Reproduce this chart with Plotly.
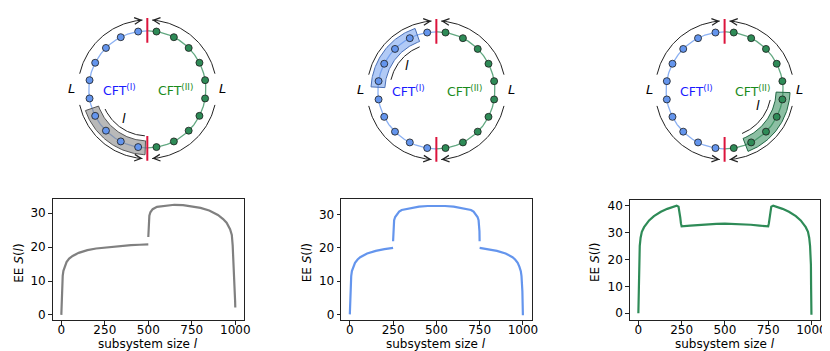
import numpy as np
import plotly.graph_objects as go

# --- lower panels: entanglement entropy S(l) vs subsystem size l ---
# None marks the jump where the curve is broken
l_grey = [0, 1, 2, 3, 5, 8, 12, 20, 30, 45, 65, 100, 150, 200, 250, 300, 350, 400, 450, 500,
          None, 500, 501, 503, 506, 512, 525, 550, 600, 650, 700, 750, 800, 850, 900, 930, 950,
          970, 980, 985, 990, 993, 995, 997, 999, 1000]
s_grey = [0, 2, 4.5, 7, 9.5, 11.5, 13, 14.5, 15.6, 16.6, 17.4, 18.3, 19.1, 19.6, 19.9, 20.2, 20.4, 20.6, 20.7, 20.8,
          None, 23, 26, 28, 29.3, 30.3, 31.2, 31.9, 32.3, 32.5, 32.4, 32.1, 31.6, 30.8, 29.5, 28.3, 27.2,
          25.3, 23.6, 20.5, 16, 12, 9, 6, 4, 2.2]

l_blue = [0, 1, 2, 3, 5, 8, 12, 20, 30, 45, 60, 100, 150, 200, 250,
          None, 250, 251, 253, 256, 262, 270, 285, 300, 350, 400, 450, 500,
          550, 600, 650, 700, 715, 730, 738, 744, 747, 749, 750,
          None, 750, 800, 850, 900, 940, 955, 970, 980, 988, 992, 995, 997, 998, 999, 1000]
s_blue = [0, 2, 4.5, 7, 9.5, 11.5, 13, 14.3, 15.5, 16.5, 17.2, 18.3, 19.1, 19.6, 20.0,
          None, 22, 25, 27, 28.3, 29.3, 30.0, 30.9, 31.4, 32.0, 32.4, 32.6, 32.7,
          32.6, 32.4, 32.0, 31.4, 30.9, 30.0, 29.3, 28.3, 27, 25, 22,
          None, 20.0, 19.6, 19.1, 18.3, 17.2, 16.5, 15.5, 14.3, 13, 11.5, 9.5, 7, 4.5, 2, -0.3]

l_green = [0, 1, 2, 3, 5, 8, 13, 20, 33, 50, 62, 90, 130, 167, 200, 221, 232, 238, 242, 246, 250,
           300, 350, 400, 450, 500, 550, 600, 650, 700,
           750, 754, 758, 762, 768, 779, 800, 833, 870, 910, 938, 950, 967, 980, 987, 992, 995, 997, 998, 999, 1000]
s_green = [0, 4, 10, 18, 22, 25, 28, 30.2, 31.9, 33.4, 34.4, 36, 37.6, 38.7, 39.5, 39.9, 39.5, 37.8, 35.5, 33.3, 32.2,
           32.5, 32.8, 33.0, 33.15, 33.2, 33.15, 33.0, 32.8, 32.5,
           32.2, 33.3, 35.5, 37.8, 39.5, 39.9, 39.5, 38.7, 37.6, 36, 34.4, 33.4, 31.9, 30.2, 28, 25, 22, 18, 10, 4, -0.5]

x_ticks = [0, 250, 500, 750, 1000]
y_ticks_a = [0, 10, 20, 30]
y_ticks_b = [0, 10, 20, 30, 40]

GREY = "#808080"
BLUE = "#6495ED"
GREEN = "#2E8B57"
FONT = "DejaVu Sans"
W, H = 830, 351


def px_dom(a, b, total):
    return [a / total, b / total]


def ydom(top, bottom):
    return [(H - bottom) / H, (H - top) / H]


fig = go.Figure()
annotations = []

# --- lower panels ---
curves = [(l_grey, s_grey, GREY), (l_blue, s_blue, BLUE), (l_green, s_green, GREEN)]
for i, (lx, sy, col) in enumerate(curves):
    k = "" if i == 0 else str(i + 1)
    fig.add_trace(go.Scatter(x=lx, y=sy, mode="lines", line=dict(color=col, width=2.2),
                             connectgaps=False, xaxis="x" + k, yaxis="y" + k,
                             showlegend=False, hoverinfo="skip"))

panel_boxes = [  # (left, right, top, bottom) in px, y-range, y-ticks, y-title x
    ((45, 238, 192, 314), [-1.6, 34.1], y_ticks_a, 11),
    ((336, 528, 192, 314), [-1.8, 34.6], y_ticks_a, 301),
    ((627, 819, 192.3, 314), [-2.6, 42.1], y_ticks_b, 592),
]

axis_style = dict(showline=True, mirror=True, linecolor="#222", linewidth=1, ticks="outside",
                  ticklen=3.5, tickwidth=1, tickcolor="#222", showgrid=False, zeroline=False,
                  tickfont=dict(family=FONT, size=12, color="black"), fixedrange=True)

layout_axes = {}
for i, ((x0, x1, y0, y1), yr, yt, ytx) in enumerate(panel_boxes):
    k = "" if i == 0 else str(i + 1)
    layout_axes["xaxis" + k] = dict(domain=px_dom(x0, x1, W), range=[-50, 1050], tickvals=x_ticks,
                                    anchor="y" + k, ticklabelstandoff=-5, **axis_style)
    layout_axes["yaxis" + k] = dict(domain=ydom(y0, y1), range=yr, tickvals=yt, anchor="x" + k,
                                    **axis_style)
    annotations.append(dict(x=(x0 + x1) / 2 / W, y=(H - 338) / H, xref="paper", yref="paper",
                            xanchor="center", yanchor="middle",
                            text="subsystem size <i>l</i>", showarrow=False,
                            font=dict(family=FONT, size=12, color="black")))
    annotations.append(dict(x=ytx / W, y=(H - (y0 + y1) / 2 - 3) / H, xref="paper", yref="paper",
                            xanchor="center", yanchor="middle",
                            text="EE <i>S</i>(<i>l</i>)", showarrow=False, textangle=-90,
                            font=dict(family=FONT, size=12, color="black")))

# --- upper sketches: ring of sites split into CFT(I) and CFT(II) ---
R = 59          # ring radius (px)
R_OUT = 70      # outer L arrows
R_IN = 47       # inner l arrow
site_deg = 18
n_half = 10

sketches = [
    dict(cx=140.5, cy=81, band=(199, 268), band_fill="rgba(128,128,128,0.55)", band_edge="#555555",
         arrow=(267, 205), lpos=(-24, -29)),
    dict(cx=432, cy=82, band=(109, 177), band_fill="rgba(100,149,237,0.5)", band_edge="#4a6fb5",
         arrow=(167, 111), lpos=(-30, 25)),
    dict(cx=722.7, cy=82, band=(-69, -2), band_fill="rgba(46,139,87,0.55)", band_edge="#226644",
         arrow=(-12, -68), lpos=(34, -15)),
]
outer_arcs = [(167, 94), (13, 86), (193, 266), (-13, -86)]


def arc(r, a0, a1, n=60):
    t = np.radians(np.linspace(a0, a1, n))
    return r * np.cos(t), r * np.sin(t)


def add_arrow(xa, ya, r, a0, a1, col="#222"):
    x, y = arc(r, a0, a1)
    fig.add_trace(go.Scatter(x=x, y=y, mode="lines", line=dict(color=col, width=1),
                             xaxis=xa, yaxis=ya, showlegend=False, hoverinfo="skip"))
    step = 4 if a1 > a0 else -4
    tx, ty = arc(r, a1 - step, a1, 2)
    annotations.append(dict(x=tx[1], y=ty[1], ax=tx[0], ay=ty[0], xref=xa, yref=ya,
                            axref=xa, ayref=ya, text="", showarrow=True, arrowhead=5,
                            arrowsize=1.3, arrowwidth=1, arrowcolor=col))


for j, sk in enumerate(sketches):
    n = j + 4
    xa, ya = "x%d" % n, "y%d" % n
    layout_axes["xaxis%d" % n] = dict(domain=px_dom(sk["cx"] - 90, sk["cx"] + 90, W), range=[-90, 90],
                                      visible=False, fixedrange=True, anchor=ya)
    layout_axes["yaxis%d" % n] = dict(domain=[(H - sk["cy"] - 80) / H, (H - sk["cy"] + 80) / H],
                                      range=[-80, 80], visible=False, fixedrange=True, anchor=xa)

    # ring halves
    x, y = arc(R, 90, 270, 120)
    fig.add_trace(go.Scatter(x=x, y=y, mode="lines", line=dict(color="rgba(100,149,237,0.75)", width=1.3),
                             xaxis=xa, yaxis=ya, showlegend=False, hoverinfo="skip"))
    x, y = arc(R, -90, 90, 120)
    fig.add_trace(go.Scatter(x=x, y=y, mode="lines", line=dict(color="rgba(46,139,87,0.75)", width=1.3),
                             xaxis=xa, yaxis=ya, showlegend=False, hoverinfo="skip"))

    # highlighted subsystem
    b0, b1 = sk["band"]
    xo, yo = arc(R + 7, b0, b1)
    xi, yi = arc(R - 7, b1, b0)
    fig.add_trace(go.Scatter(x=np.r_[xo, xi, xo[:1]], y=np.r_[yo, yi, yo[:1]], mode="lines",
                             fill="toself", fillcolor=sk["band_fill"],
                             line=dict(color=sk["band_edge"], width=1),
                             xaxis=xa, yaxis=ya, showlegend=False, hoverinfo="skip"))

    # sites
    left = np.radians(90 + site_deg / 2 + site_deg * np.arange(n_half))
    right = np.radians(90 - site_deg / 2 - site_deg * np.arange(n_half))
    for ang, col in ((left, BLUE), (right, GREEN)):
        fig.add_trace(go.Scatter(x=R * np.cos(ang), y=R * np.sin(ang), mode="markers",
                                 marker=dict(size=7, color=col, line=dict(color="#1a1a1a", width=0.8)),
                                 xaxis=xa, yaxis=ya, showlegend=False, hoverinfo="skip"))

    # cuts between the two CFTs
    for sgn in (1, -1):
        fig.add_trace(go.Scatter(x=[0, 0], y=[sgn * 47, sgn * 72], mode="lines",
                                 line=dict(color="#DC143C", width=2),
                                 xaxis=xa, yaxis=ya, showlegend=False, hoverinfo="skip"))

    for a0, a1 in outer_arcs:
        add_arrow(xa, ya, R_OUT, a0, a1)
    add_arrow(xa, ya, R_IN, *sk["arrow"])

    txt = [(-28, -1, "CFT<sup>(I)</sup>", "#1a1aff"), (28, -1, "CFT<sup>(II)</sup>", "#1a8a1a")]
    for tx, ty, t, c in txt:
        annotations.append(dict(x=tx, y=ty, xref=xa, yref=ya, text=t, showarrow=False,
                                font=dict(family=FONT, size=12.5, color=c)))
    for tx in (-76, 76):
        annotations.append(dict(x=tx, y=1, xref=xa, yref=ya, text="<i>L</i>", showarrow=False,
                                font=dict(family=FONT, size=13, color="black")))
    annotations.append(dict(x=sk["lpos"][0], y=sk["lpos"][1], xref=xa, yref=ya, text="<i>l</i>",
                            showarrow=False, font=dict(family=FONT, size=13, color="black")))

fig.update_layout(
    width=W, height=H,
    margin=dict(l=0, r=0, t=0, b=0),
    paper_bgcolor="white", plot_bgcolor="white",
    font=dict(family=FONT, size=12, color="black"),
    showlegend=False,
    annotations=annotations,
    **layout_axes,
)

fig.write_html("out.html")
